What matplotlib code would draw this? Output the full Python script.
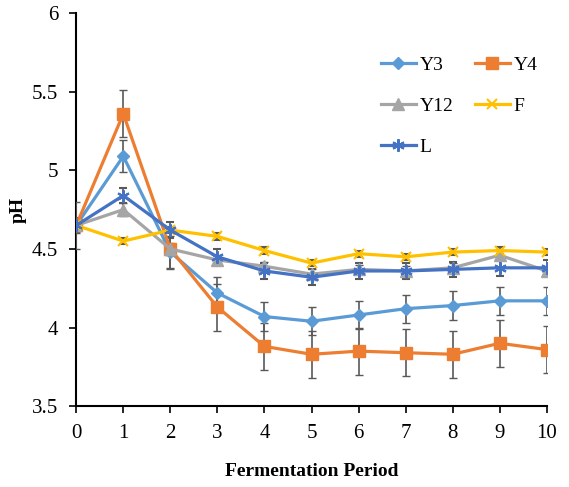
import numpy as np
import matplotlib.pyplot as plt
from matplotlib.lines import Line2D

plt.rcParams['font.family'] = ['Liberation Serif', 'DejaVu Serif']

days = [0, 1, 2, 3, 4, 5, 6, 7, 8, 9, 10]

y3 = [4.65, 5.09, 4.48, 4.22, 4.07, 4.04, 4.08, 4.12, 4.14, 4.17, 4.17]
y3_err = [0.05, 0.10, 0.10, 0.10, 0.09, 0.09, 0.09, 0.09, 0.09, 0.09, 0.09]
y4 = [4.65, 5.36, 4.50, 4.13, 3.88, 3.83, 3.85, 3.84, 3.83, 3.90, 3.86]
y4_err = [0.15, 0.15, 0.13, 0.15, 0.15, 0.15, 0.15, 0.15, 0.15, 0.15, 0.15]
y12 = [4.65, 4.75, 4.50, 4.43, 4.39, 4.34, 4.37, 4.36, 4.38, 4.46, 4.36]
y12_err = [0.04, 0.04, 0.04, 0.03, 0.03, 0.03, 0.03, 0.03, 0.03, 0.03, 0.03]
f = [4.65, 4.55, 4.62, 4.58, 4.49, 4.41, 4.47, 4.45, 4.48, 4.49, 4.48]
f_err = [0.02, 0.02, 0.02, 0.02, 0.02, 0.02, 0.02, 0.02, 0.02, 0.02, 0.02]
l = [4.65, 4.84, 4.62, 4.45, 4.36, 4.32, 4.36, 4.36, 4.37, 4.38, 4.38]
l_err = [0.05, 0.05, 0.05, 0.05, 0.05, 0.05, 0.05, 0.05, 0.05, 0.05, 0.05]

fig = plt.figure(figsize=(5.69, 4.87), dpi=100)
ax = fig.add_axes([0.134, 0.166, 0.827, 0.807])

series = [
    ('Y3', y3, y3_err, '#5B9BD5', 'D', 6),
    ('Y4', y4, y4_err, '#ED7D31', 's', 8),
    ('Y12', y12, y12_err, '#A5A5A5', '^', 8),
    ('F', f, f_err, '#FFC000', 'x', 7),
    ('L', l, l_err, '#4472C4', (6, 2, 0), 9),
]

handles = {}
for name, vals, err, col, mk, ms in series:
    mew = 1.5 if (mk == 'x' or isinstance(mk, tuple)) else 1
    ax.errorbar(days, vals, yerr=err, color=col, marker=mk, markersize=ms,
                linewidth=2.3, ecolor='#595959', elinewidth=1.2, capsize=3,
                capthick=1.2, markeredgewidth=mew, zorder=3)
    handles[name] = Line2D([], [], color=col, marker=mk, markersize=ms,
                           linewidth=2.3, markeredgewidth=mew)

ax.set_xlim(0, 10)
ax.set_ylim(3.5, 6)
ax.set_xticks(days)
ax.set_yticks([3.5, 4, 4.5, 5, 5.5, 6])
ax.set_yticklabels(['3.5', '4', '4.5', '5', '5.5', '6'])
ax.spines['top'].set_visible(False)
ax.spines['right'].set_visible(False)
ax.spines['left'].set_linewidth(1.5)
ax.spines['bottom'].set_linewidth(1.5)
ax.tick_params(axis='both', labelsize=15, width=1.2, length=5, direction='out')
ax.tick_params(axis='x', pad=8)
ax.tick_params(axis='y', pad=8)
ax.set_xlabel('Fermentation Period', fontsize=14, fontweight='bold', labelpad=14)
ax.set_ylabel('pH', fontsize=14, fontweight='bold', labelpad=4)

# column-major fill so rows read Y3 Y4 / Y12 F / L
order = ['Y3', 'Y12', 'L', 'Y4', 'F']
ax.legend([handles[k] for k in order], order, ncol=2, frameon=False,
          loc='upper left', bbox_to_anchor=(0.61, 0.935),
          fontsize=14, handlelength=1.8, handletextpad=0.2, columnspacing=1.1,
          labelspacing=1.2)

fig.savefig('out.png', dpi=100)
